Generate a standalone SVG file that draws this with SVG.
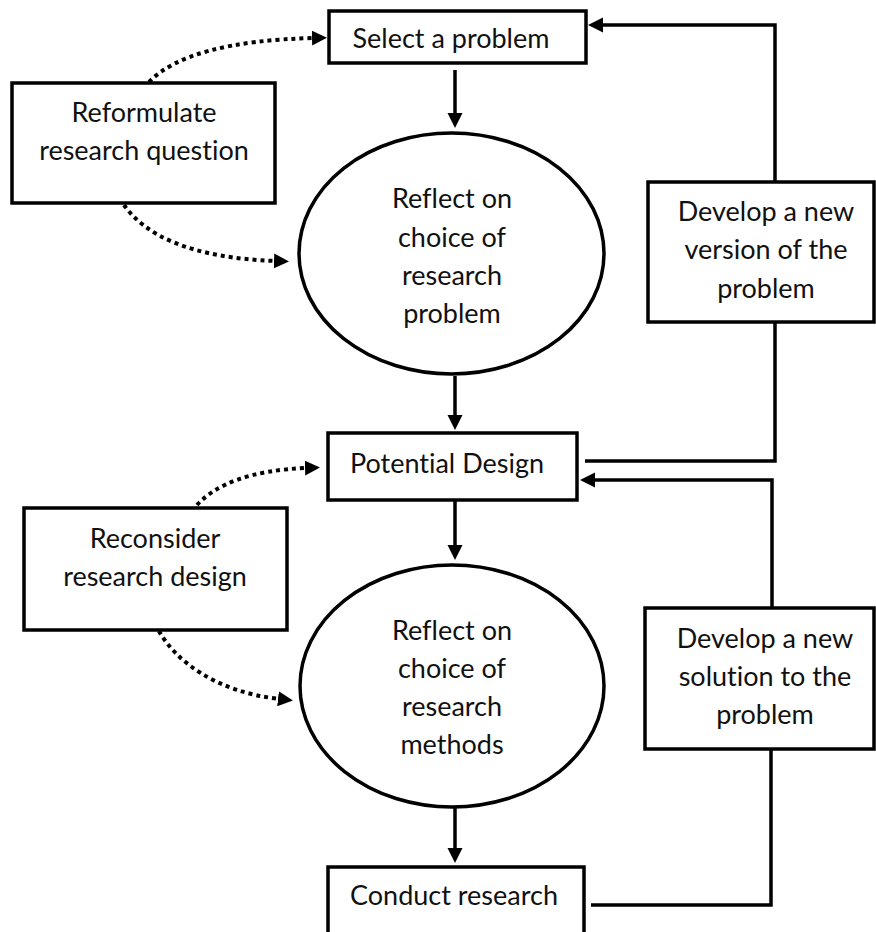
<svg xmlns="http://www.w3.org/2000/svg" width="876" height="932" viewBox="0 0 876 932">
<style>
.box{fill:#fff;stroke:#000;stroke-width:3.5}
.ell{fill:#fff;stroke:#000;stroke-width:3.5}
.t{font-family:Lato,"Open Sans","Liberation Sans",sans-serif;font-size:27px;fill:#111;text-anchor:middle;font-variant-ligatures:none}
.ln{fill:none;stroke:#000;stroke-width:3.5}
.dot{fill:none;stroke:#000;stroke-width:4;stroke-dasharray:4 4}
</style>
<defs>
<marker id="ah" markerUnits="userSpaceOnUse" markerWidth="16" markerHeight="16" refX="2" refY="7.5" orient="auto">
<path d="M0,0 L15,7.5 L0,15 z" fill="#000"/>
</marker>
</defs>
<g id="connectors">
<path class="ln" d="M455,70 V115" marker-end="url(#ah)"/>
<path class="ln" d="M455,376 V417" marker-end="url(#ah)"/>
<path class="ln" d="M455,501 V547" marker-end="url(#ah)"/>
<path class="ln" d="M455,808 V850" marker-end="url(#ah)"/>
<path class="ln" d="M775,182 V25 H601" marker-end="url(#ah)"/>
<path class="ln" d="M775,322 V461 H585"/>
<path class="ln" d="M772,608 V480 H593" marker-end="url(#ah)"/>
<path class="ln" d="M771,749 V905 H591"/>
<path class="dot" d="M149,82 C175,55 230,40 314,38" marker-end="url(#ah)"/>
<path class="dot" d="M124,205 C145,235 190,258 276,261" marker-end="url(#ah)"/>
<path class="dot" d="M197,505 C215,485 250,470 307,468" marker-end="url(#ah)"/>
<path class="dot" d="M159,631 C175,660 215,692 280,699" marker-end="url(#ah)"/>
</g>
<g id="select">
<rect class="box" x="329" y="11" width="257" height="52"/>
<text class="t" x="451" y="48">Select a problem</text>
</g>
<g id="reformulate">
<rect class="box" x="12" y="83" width="263" height="120"/>
<text class="t" x="144" y="122">Reformulate</text>
<text class="t" x="144" y="160">research question</text>
</g>
<g id="reflect-problem">
<ellipse class="ell" cx="451.5" cy="253.5" rx="152.5" ry="120.5"/>
<text class="t" x="452" y="208">Reflect on</text>
<text class="t" x="452" y="247">choice of</text>
<text class="t" x="452" y="285">research</text>
<text class="t" x="452" y="323">problem</text>
</g>
<g id="develop-version">
<rect class="box" x="648" y="182" width="226" height="140"/>
<text class="t" x="766" y="221">Develop a new</text>
<text class="t" x="766" y="259">version of the</text>
<text class="t" x="766" y="298">problem</text>
</g>
<g id="potential">
<rect class="box" x="328" y="433" width="249" height="67"/>
<text class="t" x="447" y="473">Potential Design</text>
</g>
<g id="reconsider">
<rect class="box" x="24" y="508" width="263" height="122"/>
<text class="t" x="155" y="548">Reconsider</text>
<text class="t" x="155" y="586">research design</text>
</g>
<g id="reflect-methods">
<ellipse class="ell" cx="452" cy="686" rx="152" ry="121"/>
<text class="t" x="452" y="640">Reflect on</text>
<text class="t" x="452" y="678">choice of</text>
<text class="t" x="452" y="716">research</text>
<text class="t" x="452" y="754">methods</text>
</g>
<g id="develop-solution">
<rect class="box" x="645" y="608" width="229" height="141"/>
<text class="t" x="765" y="648">Develop a new</text>
<text class="t" x="765" y="686">solution to the</text>
<text class="t" x="765" y="724">problem</text>
</g>
<g id="conduct">
<rect class="box" x="328" y="867" width="256" height="80"/>
<text class="t" x="454" y="905">Conduct research</text>
</g>
</svg>
